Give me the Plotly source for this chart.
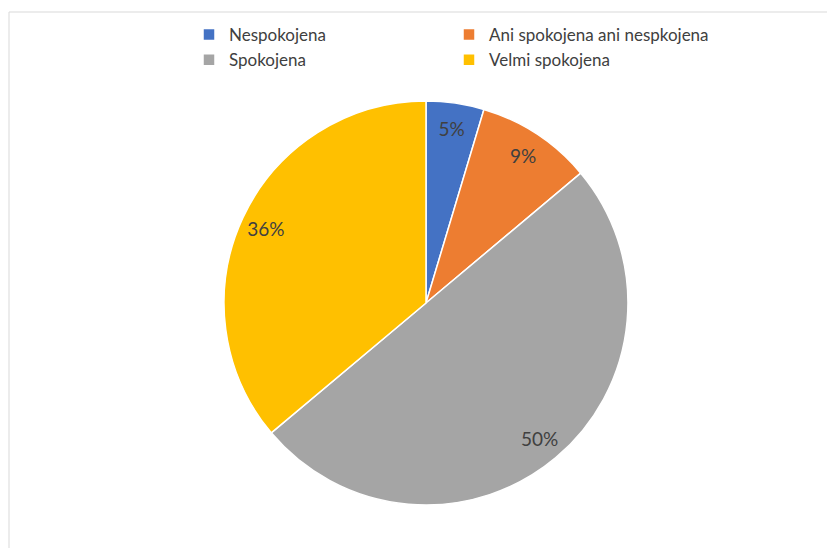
import plotly.graph_objects as go

labels = ["Nespokojena", "Ani spokojena ani nespkojena", "Spokojena", "Velmi spokojena"]
counts = [5, 10, 54, 39]
colors = ["#4472C4", "#ED7D31", "#A5A5A5", "#FFC000"]

W, H = 827, 548
ML, MR = 110, 110          # side margins (limit legend row width -> two columns)
GW = W - ML - MR
cx, cy, r = 426, 303, 202


def px_x(p):
    return (p - ML) / GW


dom = dict(x=[px_x(cx - r), px_x(cx + r)], y=[1 - (cy + r) / H, 1 - (cy - r) / H])

fig = go.Figure()
# coloured slices
fig.add_trace(go.Pie(
    labels=labels,
    values=counts,
    marker=dict(colors=colors, line=dict(color="white", width=1.5)),
    sort=False,
    direction="clockwise",
    rotation=0,
    textinfo="none",
    domain=dom,
    hoverinfo="label+percent",
))
# transparent ring that carries the percentage labels near the rim
fig.add_trace(go.Pie(
    labels=labels,
    values=counts,
    hole=0.75,
    marker=dict(colors=["rgba(0,0,0,0)"] * len(labels), line=dict(width=0)),
    sort=False,
    direction="clockwise",
    rotation=0,
    texttemplate="%{percent:.0%}",
    textposition="inside",
    insidetextorientation="horizontal",
    textfont=dict(family="Lato, sans-serif", size=19, color="#404040"),
    domain=dom,
    showlegend=False,
    hoverinfo="skip",
))

fig.update_layout(
    width=W, height=H,
    margin=dict(l=ML, r=MR, t=0, b=0, autoexpand=False),
    paper_bgcolor="white",
    plot_bgcolor="white",
    font=dict(family="Lato, sans-serif", color="#404040"),
    showlegend=True,
    legend=dict(
        orientation="h",
        x=px_x(449), xanchor="center",
        y=1 - 17 / H, yanchor="top",
        entrywidth=215, entrywidthmode="pixels",
        font=dict(size=17, color="#404040"),
        bgcolor="rgba(0,0,0,0)",
        itemclick=False,
    ),
    shapes=[dict(type="rect", xref="paper", yref="paper",
                 x0=px_x(9), x1=px_x(W + 10), y0=-0.02, y1=1 - 12 / H,
                 line=dict(color="#D9D9D9", width=1), fillcolor="rgba(0,0,0,0)", layer="below")],
)

fig.write_html("out.html")
